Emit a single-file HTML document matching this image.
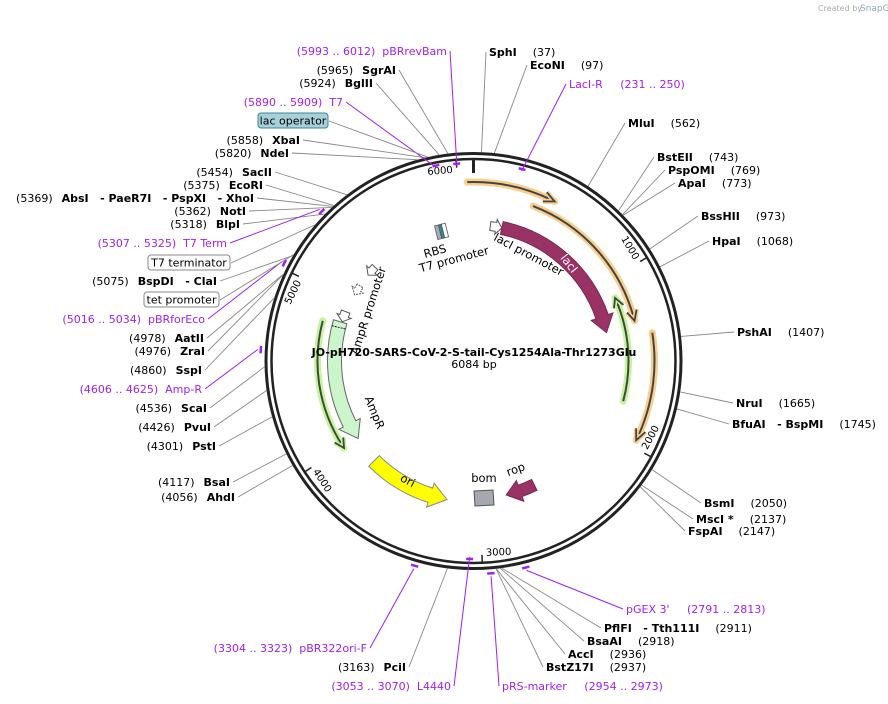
<!DOCTYPE html>
<html><head><meta charset="utf-8">
<style>
html,body{margin:0;padding:0;background:#fff;}
svg{display:block;font-family:"DejaVu Sans","Liberation Sans",sans-serif;}
</style></head>
<body>
<svg id="map" width="888" height="704" viewBox="0 0 888 704" xmlns="http://www.w3.org/2000/svg">
<text x="818" y="11" font-size="8" fill="#aaa">Created by</text>
<text x="860" y="11" font-size="9" fill="#8ab">SnapGene</text>
<g id="ring"></g>
<g id="feat"></g>
<g id="labs"></g>
<text x="474" y="356" font-size="11" font-weight="bold" text-anchor="middle">JO-pH720-SARS-CoV-2-S-tail-Cys1254Ala-Thr1273Glu</text>
<text x="474" y="368" font-size="11" text-anchor="middle">6084 bp</text>
</svg>
<script>
const TOTAL = 6084;
const S="\u00a0\u00a0\u00a0";
const enzNames = ["SphI","EcoNI","MluI","BstEII","PspOMI","ApaI","BssHII","HpaI","PshAI","NruI","BfuAI"+S+"- BspMI","BsmI","MscI *","FspAI","PflFI"+S+"- Tth111I","BsaAI","AccI","BstZ17I","PciI","AhdI","BsaI","PstI","PvuI","ScaI","SspI","ZraI","AatII","BspDI"+S+"- ClaI","BlpI","NotI","AbsI"+S+"- PaeR7I"+S+"- PspXI"+S+"- XhoI","EcoRI","SacII","NdeI","XbaI","BglII","SgrAI"];
const enzPos = [37,97,562,743,769,773,973,1068,1407,1665,1745,2050,2137,2147,2911,2918,2936,2937,3163,4056,4117,4301,4426,4536,4860,4976,4978,5075,5318,5362,5369,5375,5454,5820,5858,5924,5965];
const enzX = [489,530,628,657,668,678,701,712,737,736,732,704,696,688,604,587,568,546,406,235,230,216,211,207,202,205,204,217,240,246,254,263,272,289,300,373,396];
const enzY = [56,69,127,161,174,187,220,245,336,407,428,507,523,535,632,645,658,671,671,501,486,450,431,412,374,355,342,285,228,215,202,189,176,157,144,87,74];
const prName = ["pBRrevBam","T7","T7 Term","pBRforEco","Amp-R","pBR322ori-F","L4440","pRS-marker","pGEX 3'","LacI-R"];
const prRange = ["(5993 .. 6012)","(5890 .. 5909)","(5307 .. 5325)","(5016 .. 5034)","(4606 .. 4625)","(3304 .. 3323)","(3053 .. 3070)","(2954 .. 2973)","(2791 .. 2813)","(231 .. 250)"];
const prPos = [6002,5900,5316,5025,4615,3313,3061,2963,2802,240];
const prX = [447,343,227,205,202,367,451,502,626,569];
const prY = [55,106,247,323,393,652,690,690,613,88];
const prR = [198,199,213,213,213,213,198,213,213,198];
const ticks = [1000,2000,3000,4000,5000,6000];

const cx=473.5, cy=361;
const NS="http://www.w3.org/2000/svg";
const ang = bp => bp/TOTAL*360;
function pt(a,r){const t=a*Math.PI/180;return [cx+r*Math.sin(t), cy-r*Math.cos(t)];}
function mk(tag,attrs,parent){const e=document.createElementNS(NS,tag);for(const k in attrs)e.setAttribute(k,attrs[k]);parent.appendChild(e);return e;}
const ring=document.getElementById('ring'), feat=document.getElementById('feat'), labs=document.getElementById('labs');

let c1=mk('circle',{cx:cx,cy:cy,r:207.5,fill:'none',stroke:'#222','stroke-width':3},ring);


let c2=mk('circle',{cx:cx,cy:cy,r:202,fill:'none',stroke:'#222','stroke-width':2.5},ring);


{const a=pt(0,201),b=pt(0,188);let l=mk('line',{x1:a[0],y1:a[1],x2:b[0],y2:b[1],stroke:'#222','stroke-width':3},ring);

}
ticks.forEach((t,i)=>{const a=ang(t);const p1=pt(a,201),p2=pt(a,194);
 let l=mk('line',{x1:p1[0],y1:p1[1],x2:p2[0],y2:p2[1],stroke:'#222','stroke-width':1.5},ring);
 
 
 let rot=a%180; if(rot>90) rot-=180;
 const lp=pt(a-5,193);
 let tx=mk('text',{x:lp[0],y:lp[1],'font-size':10,'text-anchor':'middle','dominant-baseline':'middle',transform:`rotate(${rot} ${lp[0]} ${lp[1]})`},ring);
 tx.textContent=t;
 
 
});

function arcPath(a1,a2,r){const p1=pt(a1,r),p2=pt(a2,r);const sw=a2>a1?1:0;const lg=Math.abs(a2-a1)>180?1:0;return `M${p1[0]},${p1[1]} A${r},${r} 0 ${lg} ${sw} ${p2[0]},${p2[1]}`;}
function band(a1,a2,r,w,head,hw){const d=a2>a1?1:-1;const be=a2-d*head;const ro=r+w/2, ri=r-w/2;
 const p1=pt(a1,ro),p2=pt(be,ro),p3=pt(be,ro+hw),p4=pt(a2,r),p5=pt(be,ri-hw),p6=pt(be,ri),p7=pt(a1,ri);
 const sw=d>0?1:0;
 return `M${p1} A${ro},${ro} 0 0 ${sw} ${p2} L${p3} L${p4} L${p5} L${p6} A${ri},${ri} 0 0 ${1-sw} ${p7} Z`;}
function thinArrow(name,a1,a2,r,glow){
 const g=mk('g',{},feat);
 
 
 mk('path',{d:arcPath(a1,a2,r),fill:'none',stroke:glow,'stroke-width':7,'stroke-linecap':'round'},g);
 const d=a2>a1?1:-1;
 mk('path',{d:arcPath(a1,a2-d*1,r),fill:'none',stroke:'#444','stroke-width':2},g);
 const t=pt(a2,r),b1=pt(a2-d*3.5,r+5),b2=pt(a2-d*3.5,r-5);
 mk('path',{d:`M${b1} L${t} L${b2}`,fill:'none',stroke:glow,'stroke-width':5,'stroke-linejoin':'round'},g);
 mk('path',{d:`M${b1} L${t} L${b2}`,fill:'none',stroke:'#444','stroke-width':1.8},g);
}
const arcName=["lacI-cds-orange-1","lacI-cds-orange-2","orange-3","green-right","green-left"];
const arcStart=[-34,355,1369,1775,4815];
const arcEnd=[456,1284,1960,1115,3990];
const arcR=[179,166,181,155,156];
const arcGlow=["#f8cf8e","#f8cf8e","#f8cf8e","#c3f59a","#c3f59a"];
arcName.forEach((n,i)=>thinArrow(n,ang(arcStart[i]),ang(arcEnd[i]),arcR[i],arcGlow[i]));

const bandName=["lacI","AmpR","ori","rop"];
const bandStart=[203,4840,3800,2600];
const bandEnd=[1318,3990,3225,2810];
const bandR=[136,139,141,138];
const bandW=[13,14,15,12];
const bandFill=["#993366","#ccf5cc","#ffff00","#993366"];
const bandStroke=["#7a2850","#666","#888","#7a2850"];
bandName.forEach((n,i)=>{let p=mk('path',{d:band(ang(bandStart[i]),ang(bandEnd[i]),bandR[i],bandW[i],bandName[i]=="rop"?6:7,5),fill:bandFill[i],stroke:bandStroke[i],'stroke-width':1},feat);
 
 });
{const a=pt(ang(4800),146),b=pt(ang(4800),132);mk('line',{x1:a[0],y1:a[1],x2:b[0],y2:b[1],stroke:'#222','stroke-width':1,'stroke-dasharray':'2,1'},feat);}
function smallArrow(name,bp1,bp2,r,w){let p=mk('path',{d:band(ang(bp1),ang(bp2),r,w,2.5,3),fill:'#fff',stroke:'#555','stroke-width':1},feat);
 
 }
smallArrow('lacI-promoter',120,203,136,9);
smallArrow('AmpR-promoter',4920,4845,137,9);
smallArrow('T7-terminator-arrow',5300,5225,136,8);
{let p=mk('path',{d:band(ang(5130),ang(5055),136,7,2.5,3),fill:'#fff',stroke:'#555','stroke-width':1,'stroke-dasharray':'2,1'},feat);

}
{let g=mk('g',{transform:`rotate(-14 443 231)`},feat);


mk('rect',{x:436,y:224,width:4,height:14,fill:'#aab',stroke:'#555','stroke-width':0.8},g);
mk('rect',{x:440,y:224,width:3,height:14,fill:'#2a8a9a',stroke:'#555','stroke-width':0.8},g);
mk('rect',{x:443,y:224,width:4,height:14,fill:'#fff',stroke:'#555','stroke-width':0.8},g);}
{let p=mk('path',{d:'M474,491 L493,490 L494,505 L475,506 Z',fill:'#a4a8b0',stroke:'#555','stroke-width':1},feat);

}

function ftext(t,x,y,rot,opts){let e=mk('text',Object.assign({x:x,y:y,'font-size':11.5,'text-anchor':'middle',transform:`rotate(${rot} ${x} ${y})`},opts||{}),feat);e.textContent=t;
 
 return e;}
ftext('RBS',436,255,-15);
ftext('T7 promoter',455,263,-15);
ftext('lacI promoter',527,258,28);
ftext('lacI',566,266,52,{fill:'#fff'});
ftext('AmpR promoter',372,312,-72);
ftext('AmpR',371,414,68);
ftext('ori',406,484,28);
ftext('bom',484,482,0);
ftext('rop',517,473,-20);

enzNames.forEach((n,i)=>{
 const a=ang(enzPos[i]);const right=a<180;const x=enzX[i],y=enzY[i];
 const t=mk('text',{x:x,y:y,'font-size':11,'text-anchor':right?'start':'end'},labs);
 
 
 if(right){mk('tspan',{'font-weight':'bold'},t).textContent=n;mk('tspan',{dx:16},t).textContent='('+enzPos[i]+')';}
 else{mk('tspan',{},t).textContent='('+enzPos[i]+')';mk('tspan',{dx:9,'font-weight':'bold'},t).textContent=n;}
 const p=pt(a,209);const sx=right?x-3:x+3;const sy=y-4;
 const l=mk('line',{x1:sx,y1:sy,x2:p[0],y2:p[1],stroke:'#888','stroke-width':0.9},labs);
 
 
});
prName.forEach((n,i)=>{
 const a=ang(prPos[i]);const right=a<180;const x=prX[i],y=prY[i];
 const t=mk('text',{x:x,y:y,'font-size':11,'text-anchor':right?'start':'end',fill:'#a020f0'},labs);
 
 
 t.textContent = right ? n+'\u00a0\u00a0\u00a0\u00a0\u00a0'+prRange[i] : prRange[i]+'\u00a0\u00a0'+n;
 const mkp=mk('path',{d:arcPath(a-1,a+1,prR[i]),stroke:'#a020f0','stroke-width':2.5,fill:'none'},labs);
 
 
 const p=pt(a,prR[i]+(prR[i]>205?3:-2));const sx=right?x-3:x+3;
 const l=mk('line',{x1:sx,y1:y-4,x2:p[0],y2:p[1],stroke:'#a020f0','stroke-width':1},labs);
 
 
});
function boxLab(t,x,y,w,bg,bd,bp){const g=mk('g',{},labs);
 
 
 mk('rect',{x:x,y:y,width:w,height:15,rx:3,fill:bg,stroke:bd,'stroke-width':1},g);
 const e=mk('text',{x:x+w/2,y:y+11.5,'font-size':11,'text-anchor':'middle'},g);e.textContent=t;
 const p=pt(ang(bp),209);mk('line',{x1:x+w+1,y1:y+8,x2:p[0],y2:p[1],stroke:'#888','stroke-width':0.9},g);}
boxLab('lac operator',258,113,70,'#a8d0da','#3d8494',5870);
boxLab('T7 terminator',148,255,82,'#fff','#888',5250);
boxLab('tet promoter',144,292,75,'#fff','#888',5080);
</script>
</body></html>
